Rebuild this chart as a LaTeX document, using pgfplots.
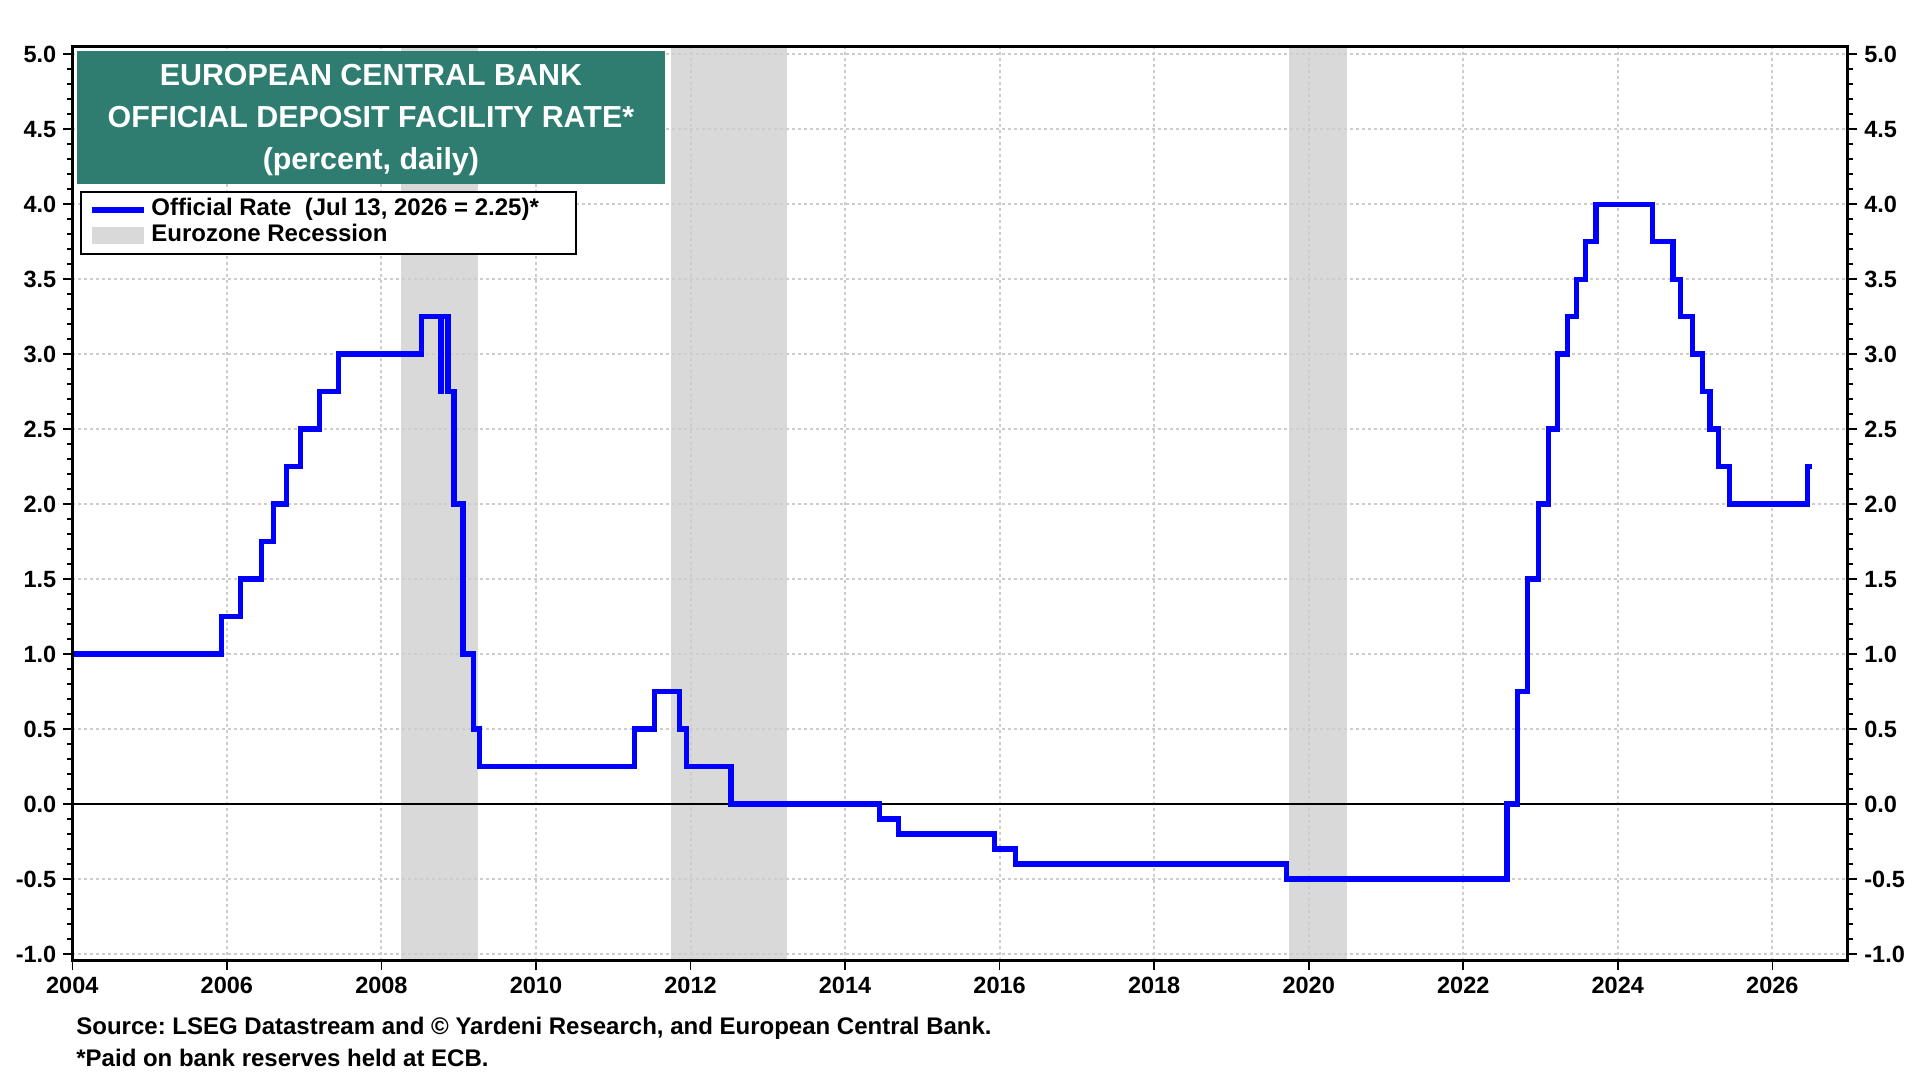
\documentclass[border=0pt]{standalone}
\usepackage{fontspec}
\setmainfont{Liberation Sans}
\usepackage{pgfplots}
\usepackage{pgfplotstable}
\pgfplotsset{compat=1.18}
\definecolor{titlegreen}{RGB}{46,125,112}
\definecolor{recgray}{RGB}{217,217,217}
\definecolor{gridgray}{RGB}{205,205,205}
\definecolor{rateblue}{RGB}{0,0,255}
\pgfplotsset{
  lineleg/.style={legend image code/.code={\draw[##1] (0pt,0pt) -- (26pt,0pt);}},
  arealeg/.style={legend image code/.code={\fill[##1] (0pt,-4.3pt) rectangle (26pt,4.3pt);}},
}

\pgfplotstableread{
x y
2004.000 1.00
2005.929 1.25
2006.181 1.50
2006.452 1.75
2006.603 2.00
2006.775 2.25
2006.948 2.50
2007.197 2.75
2007.447 3.00
2008.519 3.25
2008.766 2.75
2008.772 3.25
2008.863 2.75
2008.940 2.00
2009.055 1.00
2009.189 0.50
2009.266 0.25
2011.279 0.50
2011.529 0.75
2011.855 0.50
2011.951 0.25
2012.525 0.00
2014.441 -0.10
2014.690 -0.20
2015.937 -0.30
2016.205 -0.40
2019.712 -0.50
2022.567 0.00
2022.701 0.75
2022.836 1.50
2022.970 2.00
2023.104 2.50
2023.219 3.00
2023.353 3.25
2023.468 3.50
2023.584 3.75
2023.718 4.00
2024.445 3.75
2024.713 3.50
2024.809 3.25
2024.962 3.00
2025.096 2.75
2025.192 2.50
2025.307 2.25
2025.441 2.00
2026.450 2.25
2026.515 2.25
}\ratetable

\begin{document}
\frenchspacing
\begin{tikzpicture}
\begin{axis}[
  at={(0,0)}, anchor=south west,
  scale only axis, width=887.5pt, height=457pt,
  xmin=2004, xmax=2026.97, ymin=-1.045, ymax=5.05,
  set layers=standard,
  xtick={2004,2006,2008,2010,2012,2014,2016,2018,2020,2022,2024,2026},
  xticklabels={2004,2006,2008,2010,2012,2014,2016,2018,2020,2022,2024,2026},
  ytick={-1,-0.5,0,0.5,1,1.5,2,2.5,3,3.5,4,4.5,5},
  minor y tick num=4,
  xtick pos=left, ytick pos=left,
  tick align=outside, major tick length=4.5pt, minor tick length=2.75pt,
  tick style={black, line width=0.8pt},
  axis line style={black, line width=1.7pt},
  grid=major,
  major grid style={gridgray, line width=1pt, dash pattern=on 1.5pt off 1.5pt},
  /pgf/number format/assume math mode=true,
  tick label style={font=\fontsize{11.75}{13}\selectfont\bfseries},
  yticklabel style={/pgf/number format/fixed, /pgf/number format/fixed zerofill, /pgf/number format/precision=1},
  legend style={at={(0.004056,0.84245)}, anchor=north west, draw=black, line width=1.2pt, fill=white,
    inner xsep=4.25pt, inner ysep=3.6pt, row sep=2.05pt, column sep=2.5pt,
    font=\fontsize{12}{14}\selectfont\bfseries,
    cells={anchor=west},
    nodes={inner sep=0pt, text height=8.4pt, text depth=2.5pt}},
]
\addplot[fill=recgray, draw=none, on layer=axis background, forget plot] coordinates {(2008.25,-1.045) (2008.25,5.05) (2009.25,5.05) (2009.25,-1.045)} -- cycle;
\addplot[fill=recgray, draw=none, on layer=axis background, forget plot] coordinates {(2011.75,-1.045) (2011.75,5.05) (2013.25,5.05) (2013.25,-1.045)} -- cycle;
\addplot[fill=recgray, draw=none, on layer=axis background, forget plot] coordinates {(2019.75,-1.045) (2019.75,5.05) (2020.5,5.05) (2020.5,-1.045)} -- cycle;
\addplot[black, line width=0.6pt, forget plot] coordinates {(2004,0) (2026.97,0)};
\addplot[const plot, rateblue, line width=2.6pt, line join=miter, forget plot] table[x=x,y=y] {\ratetable};
\addlegendimage{lineleg, rateblue, line width=2.6pt}
\addlegendentry{\makebox[208pt][l]{Official Rate\ \ (Jul 13, 2026 = 2.25)*}}
\addlegendimage{arealeg, fill=recgray, draw=none}
\addlegendentry{Eurozone Recession}
\end{axis}
\begin{axis}[
  at={(0,0)}, anchor=south west,
  scale only axis, width=887.5pt, height=457pt,
  xmin=2004, xmax=2026.97, ymin=-1.045, ymax=5.05,
  xtick=\empty,
  ytick={-1,-0.5,0,0.5,1,1.5,2,2.5,3,3.5,4,4.5,5},
  minor y tick num=4,
  ytick pos=right, yticklabel pos=right,
  tick align=outside, major tick length=5pt, minor tick length=3pt,
  tick style={black, line width=0.8pt},
  axis line style={black, line width=1.7pt},
  /pgf/number format/assume math mode=true,
  tick label style={font=\fontsize{11.75}{13}\selectfont\bfseries},
  yticklabel style={/pgf/number format/fixed, /pgf/number format/fixed zerofill, /pgf/number format/precision=1},
]
\addplot[draw=none, forget plot] coordinates {(2004,0) (2026,0)};
\end{axis}
\node[fill=titlegreen, minimum width=294.1pt, minimum height=66.15pt, inner sep=0pt,
  anchor=north west] at (2.25pt,454.85pt) {};
\node[text=white, inner sep=0pt, align=center, font=\fontsize{15.2}{21.2}\selectfont\bfseries]
  at (149.3pt,420.3pt) {EUROPEAN CENTRAL BANK\\OFFICIAL DEPOSIT FACILITY RATE*\\(percent, daily)};
\node[anchor=base west, inner sep=0pt, font=\fontsize{12}{14}\selectfont\bfseries]
  at (1.85pt,-37.15pt) {Source: LSEG Datastream and © Yardeni Research, and European Central Bank.};
\node[anchor=base west, inner sep=0pt, font=\fontsize{12}{14}\selectfont\bfseries]
  at (1.85pt,-53.15pt) {*Paid on bank reserves held at ECB.};
\path (-36.15pt,-59.65pt) rectangle (923.85pt,480.35pt);
\end{tikzpicture}
\end{document}
